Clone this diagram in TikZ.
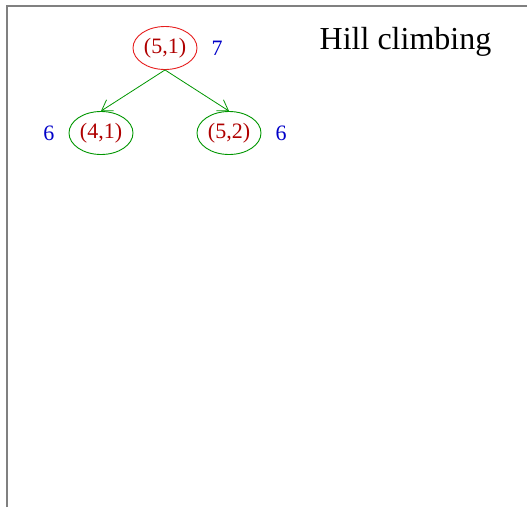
\documentclass[tikz,border=0pt]{standalone}
\usepackage{fontspec}
\setmainfont{Liberation Serif}
\usepackage{xcolor}
\usepackage{tikz}
\usetikzlibrary{arrows.meta,shapes.geometric,positioning}
\definecolor{hcred}{RGB}{230,30,30}
\definecolor{hcdark}{RGB}{175,0,0}
\definecolor{hcgreen}{RGB}{0,150,0}
\definecolor{hcblue}{RGB}{0,0,200}
\tikzset{
  hcstate/.style={
    ellipse, draw=hcgreen, line width=0.9pt, text=hcdark,
    minimum width=64pt, minimum height=43pt, inner sep=0pt,
    font=\fontsize{22}{24}\selectfont
  },
  hcstart/.style={hcstate,draw=hcred},
  hcedge/.style={-{Straight Barb[length=10pt,width=13pt]},draw=hcgreen,line width=0.8pt},
  hcscore/.style={text=hcblue,inner sep=0pt,font=\fontsize{22}{24}\selectfont},
  hctitle/.style={font=\fontsize{32}{35}\selectfont,inner sep=0pt},
  hcframe/.style={draw=gray,line width=1.5pt}
}

\begin{document}
\begin{tikzpicture}[x=1pt,y=-1pt]
  \useasboundingbox (0,0) rectangle (527,507);
  \draw[hcframe] (7,507) -- (7,6) -- (527,6);
  \node[hctitle,anchor=base] (title) at (405.5,49) {Hill climbing};
  \node[hcstart] (s51) at (165,48) {(5,1)};
  \node[hcstate] (s41) at (101,133) {(4,1)};
  \node[hcstate] (s52) at (229,133) {(5,2)};
  \node[hcscore,right=14pt of s51] (v51) {7};
  \node[hcscore,left=14pt of s41] (v41) {6};
  \node[hcscore,right=14pt of s52] (v52) {6};
  \draw[hcedge] (s51.south) -- (s41.north);
  \draw[hcedge] (s51.south) -- (s52.north);
\end{tikzpicture}
\end{document}
